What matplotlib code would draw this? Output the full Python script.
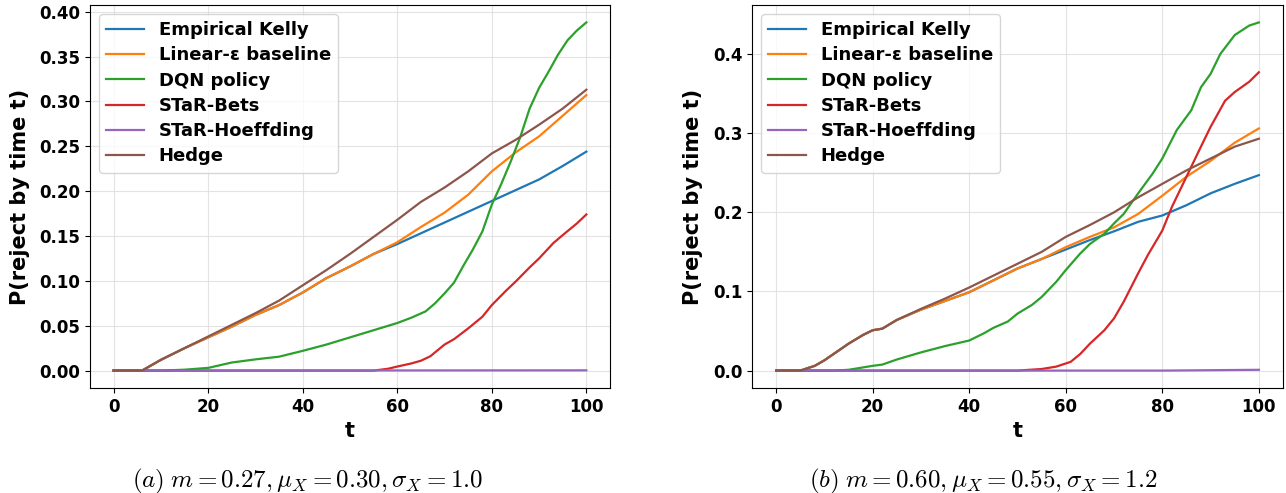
import matplotlib
matplotlib.use("Agg")
import matplotlib.pyplot as plt

plt.rcParams['font.family'] = ['DejaVu Sans']
plt.rcParams['font.weight'] = 'bold'
plt.rcParams['mathtext.fontset'] = 'cm'

labels = ["Empirical Kelly", "Linear-ε baseline", "DQN policy", "STaR-Bets", "STaR-Hoeffding", "Hedge"]
colors = ["#1f77b4", "#ff7f0e", "#2ca02c", "#d62728", "#9467bd", "#8c564b"]
xticks = [0, 20, 40, 60, 80, 100]

# ---- Panel (a) ----
t_base_a = [0, 6, 10, 15, 20, 25, 30, 35, 40, 45, 50, 55, 60, 65, 70, 75, 80, 85, 90, 95, 100]
kelly_a = [0, 0, 0.012, 0.025, 0.037, 0.049, 0.062, 0.073, 0.087, 0.103, 0.116, 0.130, 0.141, 0.153, 0.165, 0.177, 0.189, 0.201, 0.213, 0.228, 0.244]
linear_a = [0, 0, 0.012, 0.025, 0.037, 0.049, 0.062, 0.073, 0.087, 0.103, 0.116, 0.130, 0.143, 0.160, 0.176, 0.196, 0.222, 0.243, 0.261, 0.284, 0.307]
hedge_a = [0, 0, 0.012, 0.025, 0.038, 0.051, 0.064, 0.078, 0.095, 0.112, 0.130, 0.149, 0.168, 0.188, 0.204, 0.222, 0.242, 0.257, 0.274, 0.292, 0.313]
t_dqn_a = [0, 10, 15, 20, 25, 30, 35, 40, 45, 50, 55, 60, 63, 66, 68, 70, 72, 74, 76, 78, 80, 82, 84, 86, 88, 90, 92, 94, 96, 98, 100]
dqn_a = [0, 0, 0.001, 0.003, 0.009, 0.0125, 0.0155, 0.022, 0.029, 0.037, 0.045, 0.053, 0.059, 0.066, 0.075, 0.086, 0.098, 0.117, 0.135, 0.155, 0.185, 0.208, 0.233, 0.260, 0.292, 0.315, 0.333, 0.352, 0.368, 0.379, 0.388]
t_bets_a = [0, 50, 55, 58, 60, 63, 65, 67, 70, 72, 75, 78, 80, 83, 85, 88, 90, 93, 95, 98, 100]
bets_a = [0, 0, 0, 0.002, 0.0045, 0.008, 0.011, 0.016, 0.029, 0.035, 0.047, 0.060, 0.073, 0.089, 0.099, 0.115, 0.125, 0.142, 0.151, 0.164, 0.174]
t_hoef_a = [0, 100]
hoef_a = [0, 0.0003]

# ---- Panel (b) ----
t_base_b = [0, 5, 8, 10, 15, 18, 20, 22, 25, 30, 35, 40, 45, 50, 55, 60, 65, 70, 75, 80, 85, 90, 95, 100]
kelly_b = [0, 0, 0.006, 0.013, 0.034, 0.045, 0.051, 0.053, 0.064, 0.077, 0.088, 0.099, 0.114, 0.129, 0.141, 0.153, 0.165, 0.176, 0.188, 0.196, 0.209, 0.224, 0.236, 0.247]
linear_b = [0, 0, 0.006, 0.013, 0.034, 0.045, 0.051, 0.053, 0.064, 0.077, 0.088, 0.099, 0.114, 0.129, 0.141, 0.156, 0.169, 0.181, 0.198, 0.221, 0.245, 0.265, 0.288, 0.306]
hedge_b = [0, 0, 0.006, 0.013, 0.034, 0.045, 0.051, 0.053, 0.064, 0.078, 0.091, 0.105, 0.120, 0.135, 0.150, 0.169, 0.184, 0.200, 0.219, 0.236, 0.253, 0.268, 0.283, 0.293]
t_dqn_b = [0, 12, 15, 20, 22, 25, 30, 35, 40, 43, 45, 48, 50, 53, 55, 58, 60, 63, 65, 68, 70, 72, 75, 78, 80, 83, 86, 88, 90, 92, 95, 98, 100]
dqn_b = [0, 0, 0.001, 0.006, 0.0076, 0.014, 0.023, 0.031, 0.038, 0.047, 0.054, 0.062, 0.072, 0.083, 0.093, 0.112, 0.127, 0.148, 0.160, 0.173, 0.186, 0.198, 0.224, 0.249, 0.268, 0.304, 0.329, 0.358, 0.375, 0.400, 0.424, 0.436, 0.440]
t_bets_b = [0, 50, 55, 58, 61, 63, 65, 68, 70, 72, 75, 77, 80, 82, 85, 88, 90, 93, 95, 98, 100]
bets_b = [0, 0, 0.002, 0.005, 0.011, 0.021, 0.034, 0.051, 0.066, 0.087, 0.123, 0.146, 0.177, 0.207, 0.245, 0.283, 0.308, 0.341, 0.352, 0.365, 0.377]
t_hoef_b = [0, 80, 100]
hoef_b = [0, 0, 0.001]

caption_a = r"$\mathit{(a)}\;m = 0.27, \mu_X = 0.30, \sigma_X = 1.0$"
caption_b = r"$\mathit{(b)}\;m = 0.60, \mu_X = 0.55, \sigma_X = 1.2$"

fig = plt.figure(figsize=(12.86, 4.93), dpi=100)
ax_a = fig.add_axes([90/1286, 1-388/493, 520/1286, 383/493])
ax_b = fig.add_axes([752/1286, 1-388/493, 531/1286, 383/493])

panels = [
    (ax_a, [(t_base_a, kelly_a), (t_base_a, linear_a), (t_dqn_a, dqn_a), (t_bets_a, bets_a), (t_hoef_a, hoef_a), (t_base_a, hedge_a)], "{:.2f}"),
    (ax_b, [(t_base_b, kelly_b), (t_base_b, linear_b), (t_dqn_b, dqn_b), (t_bets_b, bets_b), (t_hoef_b, hoef_b), (t_base_b, hedge_b)], "{:.1f}"),
]

for ax, series, fmt in panels:
    for (tt, vv), lab, col in zip(series, labels, colors):
        ax.plot(tt, vv, color=col, lw=1.6, label=lab)
    ax.set_xticks(xticks)
    ax.grid(True, color="#dddddd", lw=0.8, alpha=0.8)
    ax.set_xlabel("t", fontsize=15, fontweight="bold")
    ax.set_ylabel("P(reject by time t)", fontsize=15, fontweight="bold", labelpad=7)
    ax.tick_params(labelsize=12)
    for lbl in ax.get_xticklabels() + ax.get_yticklabels():
        lbl.set_fontweight("bold")
    ax.yaxis.set_major_formatter(matplotlib.ticker.FuncFormatter(lambda v, p, f=fmt: f.format(v)))
    ax.legend(loc="upper left", prop={"size": 13, "weight": "bold"}, framealpha=0.8,
              labelspacing=0.4, handlelength=2.1)

fig.text(308/1286, 1-481/493, caption_a, fontsize=18, ha="center", va="center")
fig.text(983/1286, 1-481/493, caption_b, fontsize=18, ha="center", va="center")

fig.savefig("out.png", dpi=100)
